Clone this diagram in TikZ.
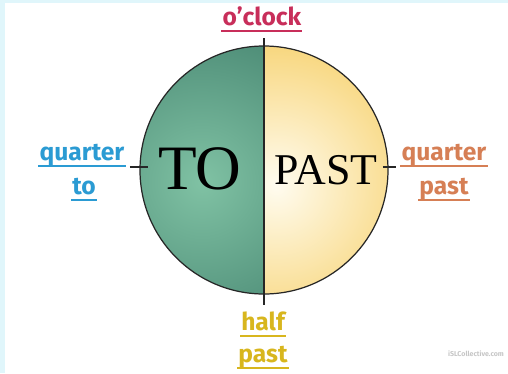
\documentclass[tikz,border=0pt]{standalone}
\usepackage{fontspec}
\setmainfont{Liberation Serif}
\newfontfamily\labelfont{Fira Sans}
\definecolor{tealdark}{RGB}{56,118,100}
\definecolor{teallight}{RGB}{128,194,164}
\definecolor{sunny}{RGB}{245,199,78}
\definecolor{cream}{RGB}{255,252,240}
\definecolor{oclock}{RGB}{200,46,90}
\definecolor{qto}{RGB}{43,155,211}
\definecolor{qpast}{RGB}{214,127,85}
\definecolor{hpast}{RGB}{216,182,30}
\definecolor{framecol}{RGB}{224,246,251}

\begin{document}
\begin{tikzpicture}[x=0.02cm,y=0.02cm,
  word/.style={font=\labelfont\bfseries\fontsize{14}{14}\selectfont, text=#1,
    anchor=base, text depth=0pt, inner xsep=0.5pt, inner ysep=3pt,
    append after command={(\tikzlastnode.south west) edge[draw=#1, line width=1.2pt] (\tikzlastnode.south east)}},
  tick/.style={line width=0.7pt, black!85}]

% frame of the sheet
\useasboundingbox (-264,-203) rectangle (244,170);
\fill[framecol] (-264,-203) rectangle (244,170);
\fill[white] (-259,-203) rectangle (244,167);

\coordinate (M) at (0,0);
\coordinate (T) at (0,132);
\coordinate (H) at (0,-135);
\coordinate (L1) at (-134,3);
\coordinate (L2) at (-116,3);
\coordinate (R1) at (119,3);
\coordinate (R2) at (132,3);

% the two halves
\begin{scope}
\clip (0,124) arc[start angle=90, end angle=270, radius=124] -- cycle;
\shade[inner color=teallight, outer color=tealdark] (-62,-12) circle (220);
\end{scope}
\begin{scope}
\clip (0,124) arc[start angle=90, end angle=-90, radius=124] -- cycle;
\shade[inner color=cream, outer color=sunny] (12,-15) circle (200);
\end{scope}

\draw[tick] (M) circle (124);
\draw[tick] (T) -- (H);
\draw[tick] (L1) -- (L2);
\draw[tick] (R1) -- (R2);

\node (to) at (-64,1) {\fontsize{36}{36}\selectfont TO};
\node (past) at (62,0) {\fontsize{25}{25}\selectfont PAST};

\node[word=oclock] (oc) at (-2,145) {o’clock};
\node[word=qto] (qt1) at (-182,10) {quarter};
\node[word=qto] (qt2) at (-180,-24) {to};
\node[word=qpast] (qp1) at (180,10) {quarter};
\node[word=qpast] (qp2) at (180,-24) {past};
\node[word=hpast] (hp1) at (-1,-160) {half};
\node[word=hpast] (hp2) at (-1,-192) {past};

\node[font=\labelfont\bfseries\fontsize{4}{4}\selectfont, text=gray!45] (isl) at (212,-184) {iSLCollective.com};

\end{tikzpicture}
\end{document}
